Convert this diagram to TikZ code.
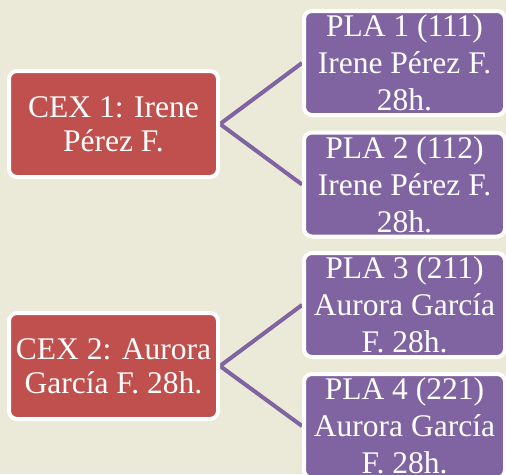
\documentclass[tikz,border=0pt]{standalone}
\usepackage{fontspec}
\setmainfont{Liberation Serif}
\definecolor{cexred}{HTML}{C0504D}
\definecolor{plapurple}{HTML}{8064A2}
\definecolor{paper}{HTML}{EBE9D8}
\pgfdeclarelayer{bg}
\pgfdeclarelayer{links}
\pgfsetlayers{bg,links,main}
\tikzset{
  cexbox/.style={rectangle, rounded corners=8pt, draw=white, line width=4pt,
    fill=cexred, text=white, align=center, inner sep=0pt,
    minimum width=209pt, minimum height=106pt,
    font=\fontsize{31.5}{34}\selectfont},
  plabox/.style={rectangle, rounded corners=8pt, draw=white, line width=4pt,
    fill=plapurple, text=white, align=center, inner sep=0pt,
    minimum width=201pt, minimum height=104pt,
    font=\fontsize{31.5}{37}\selectfont},
  link/.style={draw=plapurple, line width=4pt}
}
\begin{document}
\begin{tikzpicture}[x=1pt, y=-1pt]
  \def\Xc{113.5};
  \def\Xp{404.5};

  \begin{pgfonlayer}{bg}
    \fill[paper] (0,0) rectangle (506,474);
  \end{pgfonlayer}
  \useasboundingbox (0,0) rectangle (506,474);

        % centres
        \node[cexbox] (cex1) at (\Xc, 124) {CEX 1: Irene\\Pérez F.};
        \node[cexbox] (cex2) at (\Xc, 366) {CEX 2: Aurora\\García F. 28h.};

        % plazas
        \node[plabox] (pla1) at (\Xp, 63) {PLA 1 (111)\\Irene Pérez F.\\28h.};
        \node[plabox] (pla2) at (\Xp, 184.5) {PLA 2 (112)\\Irene Pérez F.\\28h.};
        \node[plabox] (pla3) at (\Xp, 305) {PLA 3 (211)\\Aurora García\\F. 28h.};
        \node[plabox] (pla4) at (\Xp, 426) {PLA 4 (221)\\Aurora García\\F. 28h.};

	% links
	\begin{pgfonlayer}{links}
	\draw[link] (pla1.west) -- (cex1.east) -- (pla2.west);
	\draw[link] (pla3.west) -- (cex2.east) -- (pla4.west);
	\end{pgfonlayer}
\end{tikzpicture}
\end{document}
